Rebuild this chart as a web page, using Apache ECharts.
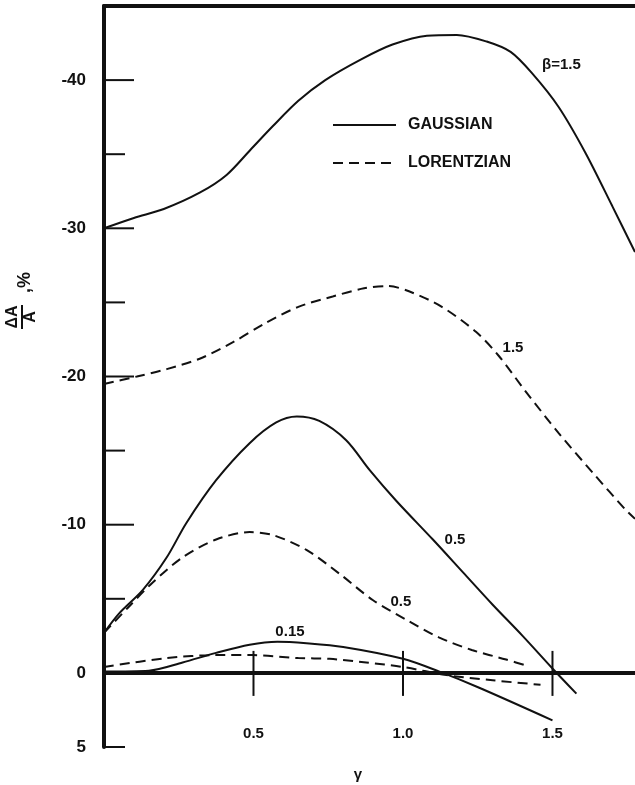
<!DOCTYPE html>
<html>
<head>
<meta charset="utf-8">
<script src="https://cdn.jsdelivr.net/npm/echarts@6/dist/echarts.min.js"></script>
<style>
html, body { margin: 0; padding: 0; background: #fff; }
#main { width: 635px; height: 785px; }
</style>
</head>
<body>
<div id="main"></div>
<script>
// gamma values and dA/A (%) for each curve
var gaussX15 = [0, 0.1, 0.2, 0.32, 0.41, 0.49, 0.565, 0.65, 0.74, 0.86, 0.965, 1.08, 1.18, 1.28, 1.36, 1.43, 1.52, 1.61, 1.7, 1.776];
var gaussY15 = [-30.0, -30.7, -31.3, -32.4, -33.6, -35.3, -36.9, -38.6, -40.0, -41.4, -42.4, -43.0, -43.05, -42.6, -41.9, -40.5, -38.2, -35.1, -31.5, -28.4];

var lorX15 = [0, 0.11, 0.21, 0.32, 0.43, 0.54, 0.65, 0.765, 0.87, 0.95, 1.02, 1.13, 1.245, 1.32, 1.41, 1.52, 1.635, 1.745, 1.776];
var lorY15 = [-19.5, -20.0, -20.5, -21.2, -22.3, -23.6, -24.7, -25.4, -25.95, -26.1, -25.75, -24.7, -23.0, -21.4, -19.0, -16.2, -13.5, -11.0, -10.4];

var gaussX05 = [0, 0.05, 0.13, 0.21, 0.275, 0.375, 0.487, 0.576, 0.645, 0.72, 0.81, 0.888, 0.978, 1.1, 1.2, 1.3, 1.4, 1.5, 1.58];
var gaussY05 = [-2.7, -4.0, -5.6, -7.8, -10.1, -13.0, -15.5, -16.9, -17.3, -17.0, -15.7, -13.7, -11.6, -9.0, -6.8, -4.6, -2.5, -0.3, 1.4];

var lorX05 = [0, 0.08, 0.163, 0.263, 0.375, 0.487, 0.565, 0.677, 0.787, 0.9, 1.01, 1.12, 1.23, 1.345, 1.42];
var lorY05 = [-2.7, -4.4, -6.1, -7.8, -9.0, -9.5, -9.3, -8.3, -6.7, -4.9, -3.6, -2.4, -1.55, -0.9, -0.45];

var gaussX015 = [0, 0.15, 0.263, 0.375, 0.487, 0.58, 0.677, 0.8, 1.0, 1.12, 1.255, 1.5];
var gaussY015 = [-0.1, -0.15, -0.7, -1.35, -1.9, -2.1, -2.0, -1.75, -0.95, -0.1, 1.0, 3.2];

var lorX015 = [0, 0.21, 0.375, 0.5, 0.65, 0.755, 0.877, 1.0, 1.145, 1.3, 1.46];
var lorY015 = [-0.4, -1.0, -1.2, -1.2, -1.0, -0.95, -0.7, -0.4, 0.15, 0.5, 0.8];

var xTickValues = [0.5, 1.0, 1.5];
var yTickValues = [-40, -35, -30, -25, -20, -15, -10, -5, 5];
var yLabelValues = [-40, -30, -20, -10, 0, 5];

var FONT = 'Liberation Sans';
var INK = '#111';

function pairs(xs, ys) {
    var out = [];
    for (var i = 0; i < xs.length; i++) {
        out.push([xs[i], ys[i]]);
    }
    return out;
}

function curve(name, xs, ys, dashed, text, at) {
    var s = {
        name: name,
        type: 'line',
        data: pairs(xs, ys),
        smooth: 0.3,
        symbol: 'none',
        silent: true,
        lineStyle: { color: INK, width: 2, type: dashed ? [10, 6] : 'solid' },
        itemStyle: { color: INK },
        z: 3
    };
    if (text) {
        s.markPoint = {
            silent: true,
            symbol: 'circle',
            symbolSize: 0,
            data: [{ coord: at }],
            label: {
                show: true, position: 'inside', formatter: text,
                color: INK, fontFamily: FONT, fontWeight: 'bold', fontSize: 15
            }
        };
    }
    return s;
}

var chart = echarts.init(document.getElementById('main'));

var option = {
    backgroundColor: '#fff',
    animation: false,
    grid: { left: 104, right: 0, top: 6, bottom: 38, containLabel: false, outerBoundsMode: 'none' },
    legend: {
        left: 327, top: 112, orient: 'vertical',
        itemWidth: 63, itemHeight: 14, itemGap: 22,
        selectedMode: false,
        data: ['GAUSSIAN', 'LORENTZIAN'],
        itemStyle: { color: 'rgba(0,0,0,0)', borderWidth: 0 },
        textStyle: { color: INK, fontFamily: FONT, fontWeight: 'bold', fontSize: 16, padding: [0, 0, 0, 7] }
    },
    xAxis: [{
        type: 'value', min: 0, max: 1.776, interval: 0.5, position: 'bottom',
        axisLine: { show: false },
        axisTick: { show: false },
        splitLine: { show: false },
        axisLabel: {
            margin: -21, color: INK, fontFamily: FONT, fontWeight: 'bold', fontSize: 15,
            formatter: function (v) {
                return xTickValues.indexOf(v) >= 0 ? v.toFixed(1) : '';
            }
        }
    }, {
        type: 'value', min: 0, max: 1.776, position: 'top',
        axisLine: { onZero: false, lineStyle: { color: INK, width: 4 } },
        axisTick: { show: false },
        splitLine: { show: false },
        axisLabel: { show: false }
    }],
    yAxis: {
        type: 'value', inverse: true, min: -45, max: 5, interval: 5,
        axisLine: { show: true, onZero: false, lineStyle: { color: INK, width: 4 } },
        axisTick: { show: false },
        splitLine: { show: false },
        axisLabel: {
            margin: 18, color: INK, fontFamily: FONT, fontWeight: 'bold', fontSize: 17,
            formatter: function (v) {
                return yLabelValues.indexOf(v) >= 0 ? String(v) : '';
            }
        }
    },
    graphic: [{
        type: 'group', x: 22, y: 317, rotation: Math.PI / 2,
        children: [
            { type: 'text', x: 0, y: -9, style: { text: '\u0394A', fill: INK, font: 'bold 16px ' + FONT, align: 'center', verticalAlign: 'middle' } },
            { type: 'line', shape: { x1: -12, y1: 0, x2: 12, y2: 0 }, style: { stroke: INK, lineWidth: 2 } },
            { type: 'text', x: 0, y: 9, style: { text: 'A', fill: INK, font: 'bold 16px ' + FONT, align: 'center', verticalAlign: 'middle' } },
            { type: 'text', x: 24, y: 3, style: { text: ',%', fill: INK, font: 'bold 18px ' + FONT, align: 'left', verticalAlign: 'middle' } }
        ]
    }, {
        type: 'text', x: 358, y: 775,
        style: { text: '\u03b3', fill: INK, font: 'bold 15px ' + FONT, align: 'center', verticalAlign: 'middle' }
    }],
    series: [
        curve('GAUSSIAN', gaussX15, gaussY15, false, '\u03b2=1.5', [1.53, -41.0]),
        curve('LORENTZIAN', lorX15, lorY15, true, '1.5', [1.368, -21.9]),
        curve('GAUSSIAN', gaussX05, gaussY05, false, '0.5', [1.174, -9.0]),
        curve('LORENTZIAN', lorX05, lorY05, true, '0.5', [0.993, -4.8]),
        curve('GAUSSIAN', gaussX015, gaussY015, false, '0.15', [0.622, -2.8]),
        curve('LORENTZIAN', lorX015, lorY015, true, null, null),
        {
            // heavy zero line that carries the gamma ticks
            type: 'line', data: [], silent: true,
            markLine: {
                silent: true, symbol: 'none', label: { show: false },
                lineStyle: { color: INK, width: 4, type: 'solid' },
                data: [{ yAxis: 0 }]
            },
            z: 4
        },
        {
            // y-axis tick marks: long at labelled tens, short at fives
            type: 'custom', silent: true, z: 4,
            data: yTickValues.map(function (v) { return [0, v]; }),
            renderItem: function (params, api) {
                var v = api.value(1);
                var p = api.coord([0, v]);
                var len = (v % 10 === 0) ? 30 : 21;
                return {
                    type: 'line',
                    shape: { x1: p[0], y1: p[1], x2: p[0] + len, y2: p[1] },
                    style: { stroke: INK, lineWidth: 2 }
                };
            }
        },
        {
            // x-axis tick marks crossing the zero line
            type: 'custom', silent: true, z: 4,
            data: xTickValues.map(function (v) { return [v, 0]; }),
            renderItem: function (params, api) {
                var p = api.coord([api.value(0), 0]);
                return {
                    type: 'line',
                    shape: { x1: p[0], y1: p[1] - 22, x2: p[0], y2: p[1] + 23 },
                    style: { stroke: INK, lineWidth: 2 }
                };
            }
        }
    ]
};
chart.setOption(option);
</script>
</body>
</html>
